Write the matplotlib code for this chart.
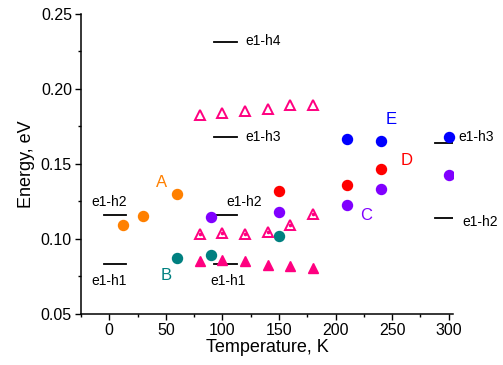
import matplotlib
matplotlib.use("Agg")
import matplotlib.pyplot as plt
from matplotlib.ticker import MultipleLocator

plt.rcParams["font.family"] = ["Liberation Sans", "DejaVu Sans"]

# measured points (T in K, energy in eV)
A_T = [12, 30, 60]
A_E = [0.109, 0.115, 0.130]
B_T = [60, 90, 150]
B_E = [0.087, 0.0895, 0.102]
C_T = [90, 150, 210, 240, 300]
C_E = [0.1147, 0.118, 0.1227, 0.1335, 0.1425]
D_T = [150, 210, 240]
D_E = [0.1322, 0.1362, 0.1467]
E_T = [210, 240, 300]
E_E = [0.1665, 0.1655, 0.1682]
TRI_T = [80, 100, 120, 140, 160, 180]
TRI_UP = [0.1827, 0.1838, 0.1855, 0.1865, 0.189, 0.189]
TRI_MID = [0.1031, 0.1042, 0.1031, 0.1049, 0.1093, 0.1167]
TRI_LOW = [0.0853, 0.086, 0.0853, 0.0827, 0.0822, 0.0805]

# calculated transitions: segment x range, energy, name
LEV_X0 = [-5, -5, 93, 93, 93, 93, 288, 288]
LEV_X1 = [15, 15, 113, 113, 113, 113, 304, 304]
LEV_E = [0.1162, 0.0831, 0.1162, 0.0831, 0.2311, 0.1682, 0.1642, 0.1138]
LEV_NAME = ["e1-h2", "e1-h1", "e1-h2", "e1-h1", "e1-h4", "e1-h3", "e1-h3", "e1-h2"]
# where each name is written
LAB_POS = [(0, 0.1245, "center"), (0, 0.0716, "center"), (119, 0.1245, "center"),
           (105, 0.0716, "center"), (120, 0.2318, "left"), (120, 0.1680, "left"),
           (309, 0.1678, "left"), (312, 0.1110, "left")]

ORANGE, TEAL, PURPLE, RED, BLUE, PINK = "#ff8000", "#008080", "#8000ff", "#ff0000", "#0000ff", "#ff0080"

fig = plt.figure(figsize=(5.03, 3.65), dpi=100)
ax = fig.add_axes([0.161, 0.14, 0.740, 0.822])

for x0, x1, e, lab, (lx, ly, ha) in zip(LEV_X0, LEV_X1, LEV_E, LEV_NAME, LAB_POS):
    ax.plot([x0, x1], [e, e], color="black", lw=1.3, zorder=2)
    ax.text(lx, ly, lab, fontsize=10, ha=ha, va="center", clip_on=False)

ms = 7.2
ax.plot(A_T, A_E, "o", color=ORANGE, ms=ms, ls="none", zorder=3)
ax.plot(B_T, B_E, "o", color=TEAL, ms=ms, ls="none", zorder=3)
ax.plot(C_T, C_E, "o", color=PURPLE, ms=ms, ls="none", zorder=3)
ax.plot(D_T, D_E, "o", color=RED, ms=ms, ls="none", zorder=3)
ax.plot(E_T, E_E, "o", color=BLUE, ms=ms, ls="none", zorder=3, clip_on=False)
ax.plot(TRI_T, TRI_UP, "^", mfc="none", mec=PINK, mew=1.4, ms=7, ls="none", zorder=3)
ax.plot(TRI_T, TRI_MID, "^", mfc="none", mec=PINK, mew=1.4, ms=7, ls="none", zorder=3)
ax.plot(TRI_T, TRI_MID, "o", color=PINK, ms=1.6, ls="none", zorder=3)
ax.plot(TRI_T, TRI_LOW, "^", color=PINK, ms=7.5, ls="none", zorder=3)

ax.text(46.5, 0.1375, "A", color=ORANGE, fontsize=12, ha="center", va="center")
ax.text(50.3, 0.0753, "B", color=TEAL, fontsize=12, ha="center", va="center")
ax.text(226.8, 0.1155, "C", color=PURPLE, fontsize=12, ha="center", va="center")
ax.text(262.6, 0.1520, "D", color=RED, fontsize=12, ha="center", va="center")
ax.text(249.4, 0.1793, "E", color=BLUE, fontsize=12, ha="center", va="center")

ax.set_xlim(-25, 304)
ax.set_ylim(0.05, 0.25)
ax.xaxis.set_major_locator(MultipleLocator(50))
ax.xaxis.set_minor_locator(MultipleLocator(25))
ax.yaxis.set_minor_locator(MultipleLocator(0.025))
ax.set_yticks([0.05, 0.10, 0.15, 0.20, 0.25])
ax.set_yticklabels(["0.05", "0.10", "0.15", "0.20", "0.25"])
ax.tick_params(which="major", direction="out", length=4, width=1, labelsize=11.5, pad=2.5)
ax.tick_params(which="minor", direction="out", length=2.5, width=1)
ax.spines["top"].set_visible(False)
ax.spines["right"].set_visible(False)
ax.spines["left"].set_linewidth(1.1)
ax.spines["bottom"].set_linewidth(1.1)
ax.set_xlabel("Temperature, K", fontsize=13, labelpad=1)
ax.set_ylabel("Energy, eV", fontsize=13, labelpad=4)

fig.savefig("out.png", dpi=100)
